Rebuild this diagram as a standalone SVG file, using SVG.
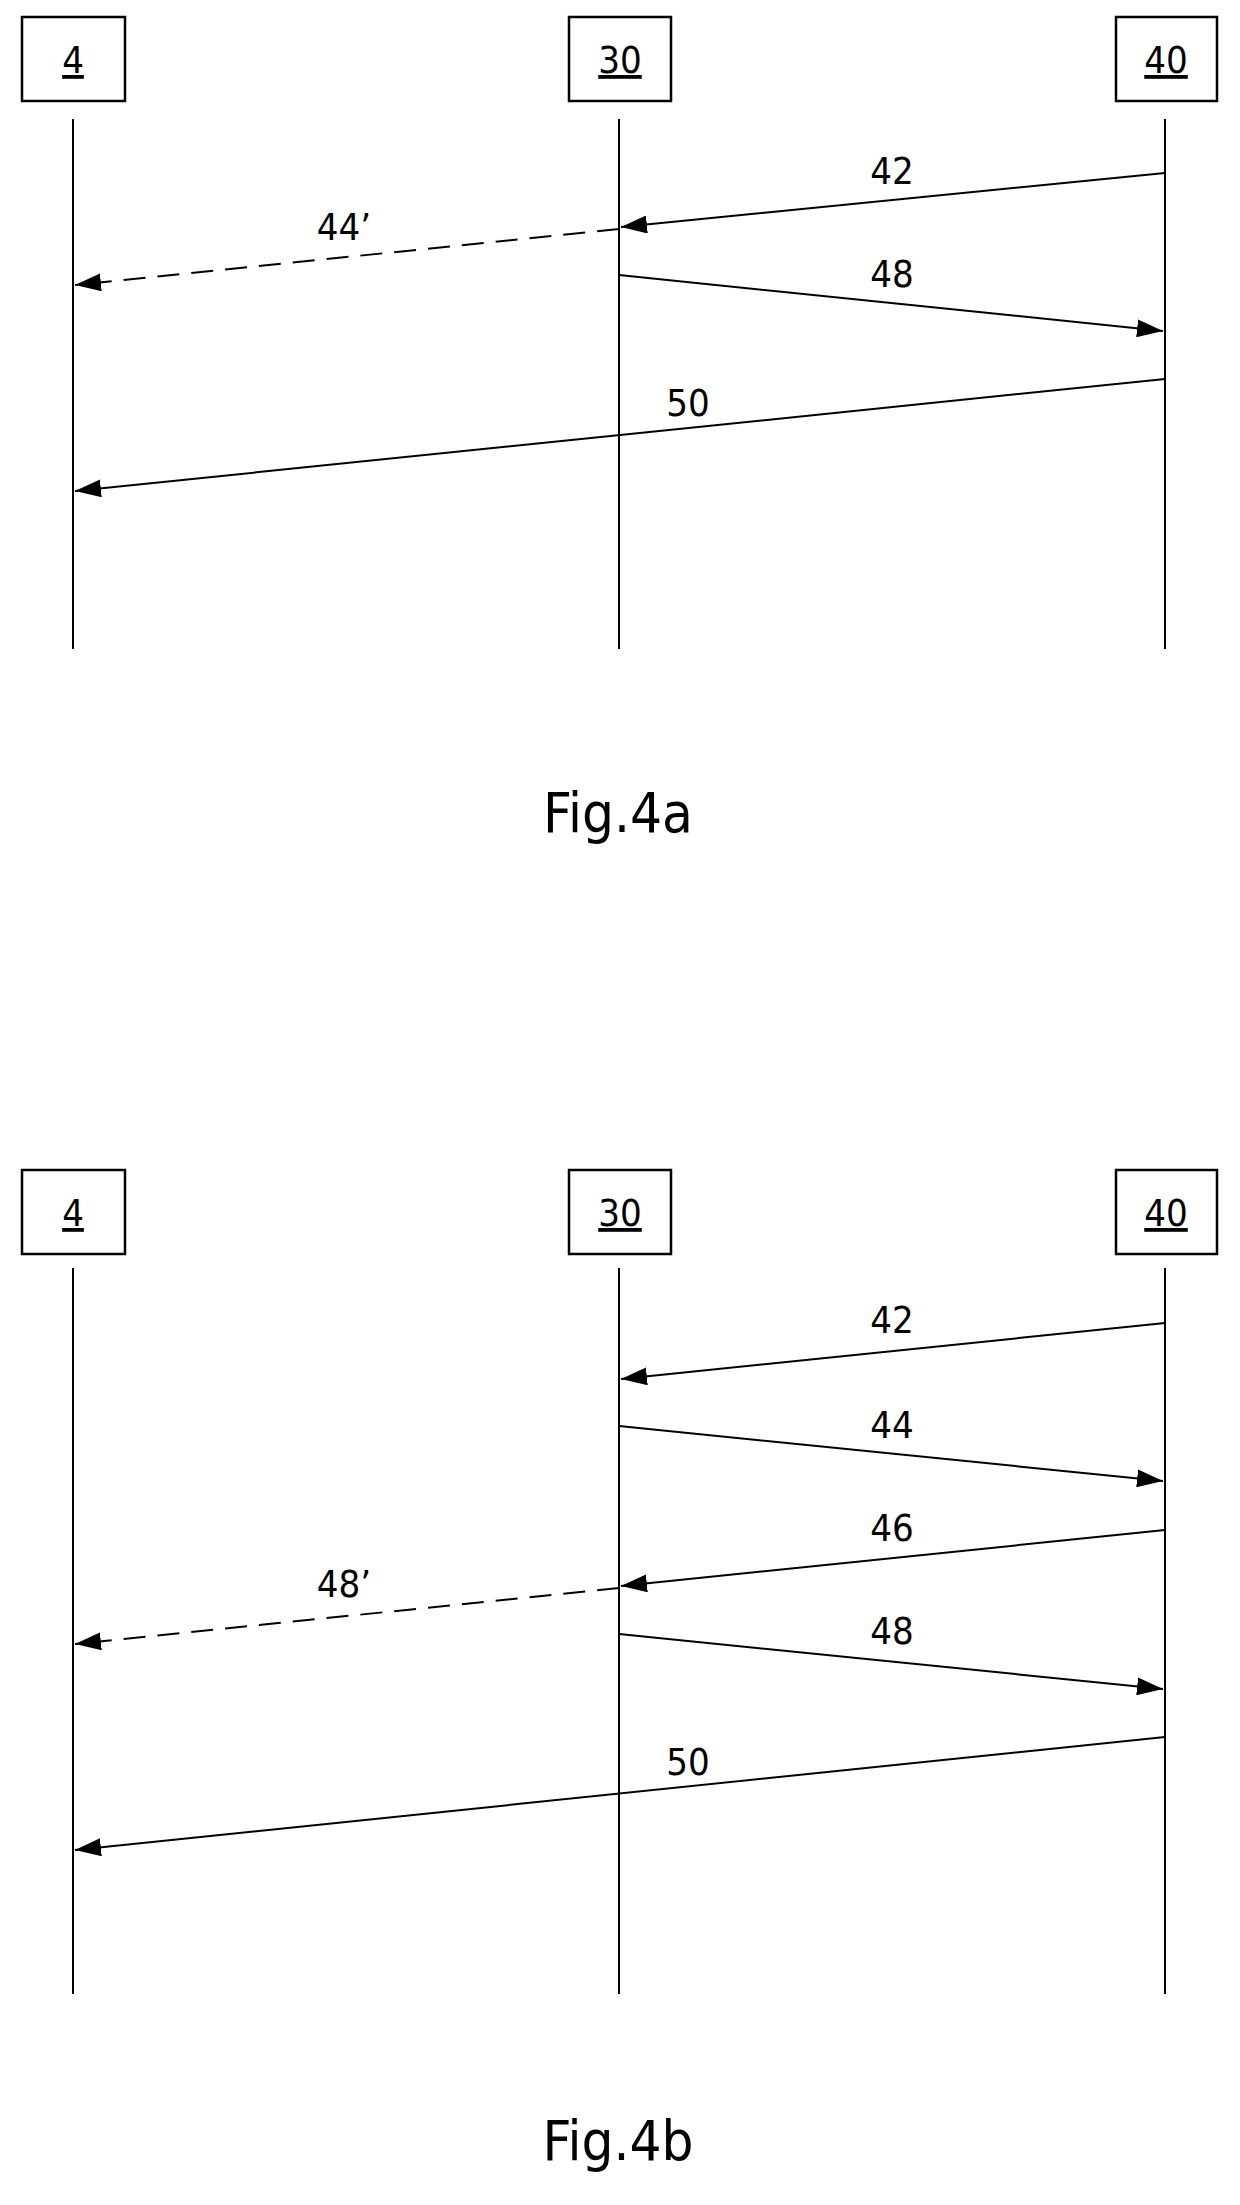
<svg xmlns="http://www.w3.org/2000/svg" width="1240" height="2205" viewBox="0 0 1240 2205">
<style>
.box{fill:#fff;stroke:#000;stroke-width:2.5}
.t{font-family:"DejaVu Sans Condensed","DejaVu Sans",sans-serif;font-size:38px;fill:#000;text-anchor:middle}
.fig{font-family:"DejaVu Sans Condensed","DejaVu Sans",sans-serif;font-size:56px;fill:#000;text-anchor:middle}
.ll{stroke:#000;stroke-width:2}
.a{stroke:#000;stroke-width:2;fill:none;marker-end:url(#ah)}
.d{stroke-dasharray:22 12}
</style>
<defs>
<marker id="ah" viewBox="0 0 26 18" refX="26" refY="9" markerWidth="26" markerHeight="18" markerUnits="userSpaceOnUse" orient="auto">
<path d="M0,0 L26,9 L0,18 Z" fill="#000"/>
</marker>
</defs>
<g id="fig4a">
<g id="a-n4"><rect class="box" x="22" y="17" width="103" height="84"/><text class="t" x="73" y="73" text-decoration="underline">4</text></g>
<g id="a-n30"><rect class="box" x="569" y="17" width="102" height="84"/><text class="t" x="620" y="73" text-decoration="underline">30</text></g>
<g id="a-n40"><rect class="box" x="1116" y="17" width="101" height="84"/><text class="t" x="1166" y="73" text-decoration="underline">40</text></g>
<g id="a-lifelines">
<line class="ll" x1="73" y1="119" x2="73" y2="649" stroke-width="3"/>
<line class="ll" x1="619" y1="119" x2="619" y2="649"/>
<line class="ll" x1="1165" y1="119" x2="1165" y2="649"/>
</g>
<g id="a-connectors">
<line class="a" x1="1165" y1="173" x2="621" y2="227"/>
<line class="a d" x1="619" y1="229" x2="75" y2="285"/>
<line class="a" x1="619" y1="275" x2="1163" y2="331"/>
<line class="a" x1="1165" y1="379" x2="75" y2="491"/>
</g>
<g id="a-labels">
<text class="t" x="892" y="184">42</text>
<text class="t" x="344" y="240">44’</text>
<text class="t" x="892" y="287">48</text>
<text class="t" x="688" y="416">50</text>
</g>
<text class="fig" x="618" y="832">Fig.4a</text>
</g>
<g id="fig4b">
<g id="b-n4"><rect class="box" x="22" y="1170" width="103" height="84"/><text class="t" x="73" y="1226" text-decoration="underline">4</text></g>
<g id="b-n30"><rect class="box" x="569" y="1170" width="102" height="84"/><text class="t" x="620" y="1226" text-decoration="underline">30</text></g>
<g id="b-n40"><rect class="box" x="1116" y="1170" width="101" height="84"/><text class="t" x="1166" y="1226" text-decoration="underline">40</text></g>
<g id="b-lifelines">
<line class="ll" x1="73" y1="1268" x2="73" y2="1994" stroke-width="3"/>
<line class="ll" x1="619" y1="1268" x2="619" y2="1994"/>
<line class="ll" x1="1165" y1="1268" x2="1165" y2="1994"/>
</g>
<g id="b-connectors">
<line class="a" x1="1165" y1="1323" x2="621" y2="1379"/>
<line class="a" x1="619" y1="1426" x2="1163" y2="1481"/>
<line class="a" x1="1165" y1="1530" x2="621" y2="1586"/>
<line class="a d" x1="619" y1="1588" x2="75" y2="1644"/>
<line class="a" x1="619" y1="1634" x2="1163" y2="1689"/>
<line class="a" x1="1165" y1="1737" x2="75" y2="1850"/>
</g>
<g id="b-labels">
<text class="t" x="892" y="1333">42</text>
<text class="t" x="892" y="1438">44</text>
<text class="t" x="892" y="1541">46</text>
<text class="t" x="344" y="1597">48’</text>
<text class="t" x="892" y="1644">48</text>
<text class="t" x="688" y="1775">50</text>
</g>
<text class="fig" x="618" y="2160">Fig.4b</text>
</g>
</svg>
